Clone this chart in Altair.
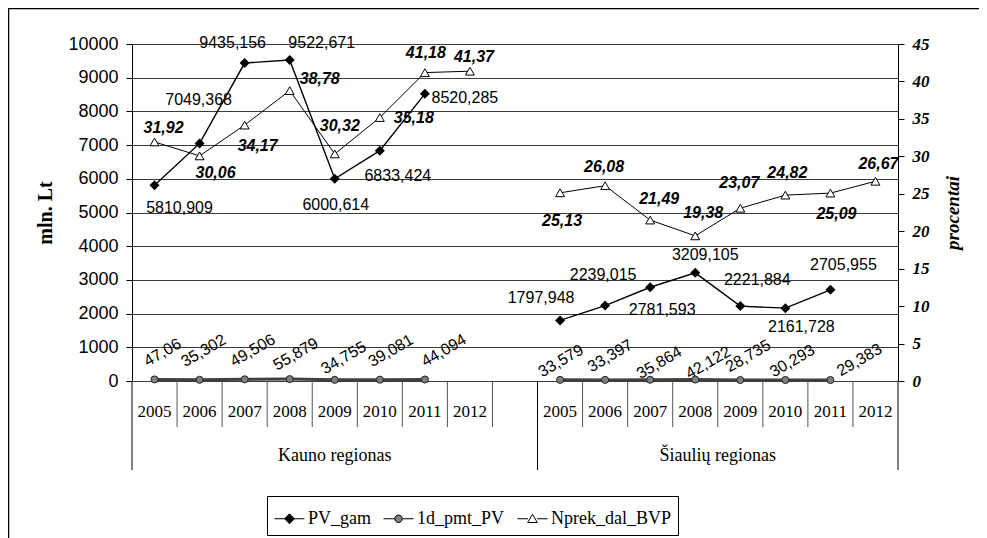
import altair as alt
import pandas as pd

# ---------------- data ----------------
years = ["2005", "2006", "2007", "2008", "2009", "2010", "2011", "2012"]
regions = ["Kauno regionas", "Šiaulių regionas"]
series_names = ["PV_gam", "1d_pmt_PV", "Nprek_dal_BVP"]

pv_gam_kauno = [5810.909, 7049.368, 9435.156, 9522.671, 6000.614, 6833.424, 8520.285, None]
pv_gam_siauliu = [1797.948, 2239.015, 2781.593, 3209.105, 2221.884, 2161.728, 2705.955, None]
pmt_kauno = [47.06, 35.302, 49.506, 55.879, 34.755, 39.081, 44.094, None]
pmt_siauliu = [33.579, 33.397, 35.864, 42.122, 28.735, 30.293, 29.383, None]
nprek_kauno = [31.92, 30.06, 34.17, 38.78, 30.32, 35.18, 41.18, 41.37]
nprek_siauliu = [25.13, 26.08, 21.49, 19.38, 23.07, 24.82, 25.09, 26.67]

# label placement (pixel offsets from the point, styling only)
pv_off_kauno = [(25, 23), (-1, -43), (-12, -20), (32, -17), (1, 26), (18, 25), (40, 4), (0, 0)]
pv_off_siauliu = [(-19, -22), (-2, -31), (12, 23), (10, -18), (17, -26), (16, 19), (13, -25), (0, 0)]
pmt_off_kauno = [(8, -27), (4, -29), (8, -29), (6, -25), (9, -22), (11, -29), (19, -29), (0, 0)]
pmt_off_siauliu = [(1, -19), (5, -24), (9, -17), (13, -17), (8, -24), (7, -19), (29, -20), (0, 0)]
np_off_kauno = [(9, -14), (16, 17), (13, 21), (30, -12), (5, -28), (34, 0), (1, -20), (4, -14)]
np_off_siauliu = [(2, 28), (-1, -19), (9, -21), (8, -23), (-1, -25), (2, -22), (6, 21), (3, -17)]

series_values = {
    "PV_gam": [pv_gam_kauno, pv_gam_siauliu],
    "1d_pmt_PV": [pmt_kauno, pmt_siauliu],
    "Nprek_dal_BVP": [nprek_kauno, nprek_siauliu],
}
series_offsets = {
    "PV_gam": [pv_off_kauno, pv_off_siauliu],
    "1d_pmt_PV": [pmt_off_kauno, pmt_off_siauliu],
    "Nprek_dal_BVP": [np_off_kauno, np_off_siauliu],
}

W, H = 766, 337
L_MAX, R_MAX = 10000, 45

n_slots_region = len(years) + 1          # one empty category after each region block
n_slots = n_slots_region * len(regions) - 1
px_per_slot = W / n_slots
series_max = {"PV_gam": L_MAX, "1d_pmt_PV": L_MAX, "Nprek_dal_BVP": R_MAX}

rows = []
for s in series_names:
    for r, reg in enumerate(regions):
        for i, y in enumerate(years):
            v = series_values[s][r][i]
            if v is None:
                continue
            ox, oy = series_offsets[s][r][i]
            slot = r * n_slots_region + i + 0.5
            rows.append({
                "series": s, "region": reg, "year": y,
                "slot": slot, "value": v, "label": str(v).replace(".", ","),
                # label anchor = point shifted by the pixel offset, expressed in scale units
                "lslot": slot + ox / px_per_slot,
                "lvalue": v - oy * series_max[s] / H,
            })
df = pd.DataFrame(rows)

year_rows = []
for r, reg in enumerate(regions):
    for i, y in enumerate(years):
        year_rows.append({"slot": r * n_slots_region + i + 0.5, "year": y})
df_years = pd.DataFrame(year_rows)
df_regions = pd.DataFrame({
    "slot": [n_slots_region / 2, n_slots_region + len(years) / 2],
    "region": regions,
})
long_b = [0, n_slots_region, n_slots]
short_b = [b for b in range(1, n_slots) if b not in long_b]
df_long = pd.DataFrame({"b": long_b})
df_short = pd.DataFrame({"b": short_b})

# ---------------- chart ----------------
xscale = alt.Scale(domain=[0, n_slots], nice=False, zero=False)
lscale = alt.Scale(domain=[0, L_MAX], nice=False)
rscale = alt.Scale(domain=[0, R_MAX], nice=False)

sans = "Liberation Sans"
serif = "Liberation Serif"

left_axis = alt.Axis(
    orient="left", values=list(range(0, L_MAX + 1, 1000)), format="d", grid=True,
    gridColor="#3a3a3a", gridWidth=1,
    domainColor="black", tickColor="black", tickSize=6, labelFont=sans, labelFontSize=18,
    labelColor="black", labelPadding=8, title="mln. Lt", titleFont=serif, titleFontSize=20,
    titleFontWeight="bold", titleColor="black", titlePadding=12,
)
right_axis = alt.Axis(
    orient="right", values=list(range(0, R_MAX + 1, 5)), format="d", grid=False, domainColor="black",
    tickColor="black", tickSize=6, labelFont=serif, labelFontSize=17, labelFontStyle="italic",
    labelFontWeight="bold", labelColor="black", labelPadding=8, title="procentai",
    titleFont=serif, titleFontSize=19, titleFontStyle="italic", titleFontWeight="bold",
    titleColor="black", titleAngle=270, titleBaseline="top", titlePadding=14,
)

xenc = alt.X("slot:Q", scale=xscale, axis=None)
ly = alt.Y("value:Q", scale=lscale, axis=left_axis)
ry = alt.Y("value:Q", scale=rscale, axis=right_axis)

frame = alt.Chart(alt.Data(values=[{"a": 1}])).mark_rect(
    fillOpacity=0, stroke="black", strokeWidth=1.5
).encode(
    x=alt.value(-123.5), x2=alt.value(W + 400), y=alt.value(-35.5), y2=alt.value(H + 400)
)

seps_short = alt.Chart(df_short).mark_rule(color="#555", strokeWidth=1).encode(
    x=alt.X("b:Q", scale=xscale, axis=None), y=alt.value(H), y2=alt.value(H + 46)
)
seps_long = alt.Chart(df_long).mark_rule(color="black", strokeWidth=1).encode(
    x=alt.X("b:Q", scale=xscale, axis=None), y=alt.value(H), y2=alt.value(H + 89)
)
year_text = alt.Chart(df_years).mark_text(
    font=serif, fontSize=17, baseline="middle", align="center", color="black"
).encode(x=alt.X("slot:Q", scale=xscale, axis=None), y=alt.value(H + 31), text="year:N")
region_text = alt.Chart(df_regions).mark_text(
    font=serif, fontSize=18, baseline="middle", align="center", color="black"
).encode(x=alt.X("slot:Q", scale=xscale, axis=None), y=alt.value(H + 75), text="region:N")


def sel(name):
    return alt.Chart(df).transform_filter(alt.datum.series == name)


pv_line = sel("PV_gam").mark_line(color="black", strokeWidth=1.4).encode(
    x=xenc, y=ly, detail="region:N"
)
pmt_line = sel("1d_pmt_PV").mark_line(color="#404040", strokeWidth=3).encode(
    x=xenc, y=ly, detail="region:N"
)
pv_pts = sel("PV_gam").mark_point(shape="diamond", filled=True, color="black", size=100, opacity=1).encode(
    x=xenc, y=ly
)
pmt_pts = sel("1d_pmt_PV").mark_point(
    shape="circle", filled=True, fill="#808080", stroke="#222", strokeWidth=1, size=50, opacity=1
).encode(x=xenc, y=ly)

pv_lab = sel("PV_gam").mark_text(font=sans, fontSize=16, color="black", align="center", baseline="middle").encode(
    x=alt.X("lslot:Q", scale=xscale, axis=None),
    y=alt.Y("lvalue:Q", scale=lscale, axis=left_axis), text="label:N",
)
pmt_lab = sel("1d_pmt_PV").mark_text(font=sans, fontSize=16, color="black", align="center",
                                      baseline="middle", angle=330).encode(
    x=alt.X("lslot:Q", scale=xscale, axis=None),
    y=alt.Y("lvalue:Q", scale=lscale, axis=left_axis), text="label:N",
)

legend_paths = [
    "M-1,0H1M0,-0.33L0.33,0L0,0.33L-0.33,0Z",
    "M-1,0H-0.25M0.25,0H1M-0.25,0A0.25,0.25 0 1,0 0.25,0A0.25,0.25 0 1,0 -0.25,0Z",
    "M-1,0H-0.3M0.3,0H1M0,-0.3L0.32,0.25L-0.32,0.25Z",
]
leg = alt.Legend(
    title=None, orient="none", legendX=135, legendY=452, direction="horizontal",
    strokeColor="black", padding=7, labelFont=serif, labelFontSize=18, labelColor="black",
    symbolSize=900, symbolStrokeWidth=1, columnPadding=10, labelOffset=3,
)
legend_layer = alt.Chart(df).transform_filter("false").mark_point(
    filled=True, strokeWidth=1, opacity=1
).encode(
    shape=alt.Shape("series:N", scale=alt.Scale(domain=series_names, range=legend_paths), legend=leg),
    fill=alt.Fill("series:N", scale=alt.Scale(domain=series_names, range=["black", "#808080", "white"]), legend=leg),
    stroke=alt.Stroke("series:N", scale=alt.Scale(domain=series_names, range=["black", "black", "black"]), legend=leg),
)

np_line = sel("Nprek_dal_BVP").mark_line(color="black", strokeWidth=1).encode(
    x=xenc, y=ry, detail="region:N"
)
np_pts = sel("Nprek_dal_BVP").mark_point(
    shape="triangle-up", filled=True, fill="white", stroke="black", strokeWidth=1, size=80, opacity=1
).encode(x=xenc, y=ry)
np_lab = sel("Nprek_dal_BVP").mark_text(
    font=sans, fontSize=16, fontStyle="italic", fontWeight="bold", color="black",
    align="center", baseline="middle"
).encode(
    x=alt.X("lslot:Q", scale=xscale, axis=None),
    y=alt.Y("lvalue:Q", scale=rscale, axis=right_axis), text="label:N",
)

left = alt.layer(frame, seps_short, seps_long, year_text, region_text,
                 pmt_line, pv_line, pv_pts, pmt_pts, pv_lab, pmt_lab, legend_layer)
right = alt.layer(np_line, np_pts, np_lab)

chart = alt.layer(left, right).resolve_scale(y="independent").properties(
    width=W, height=H,
    autosize=alt.AutoSizeParams(type="none"),
    padding={"left": 124, "top": 36, "right": 81, "bottom": 157},
).configure_view(stroke=None).configure(background="white")

chart.save("out.html", embed_options={"renderer": "svg", "actions": False})
